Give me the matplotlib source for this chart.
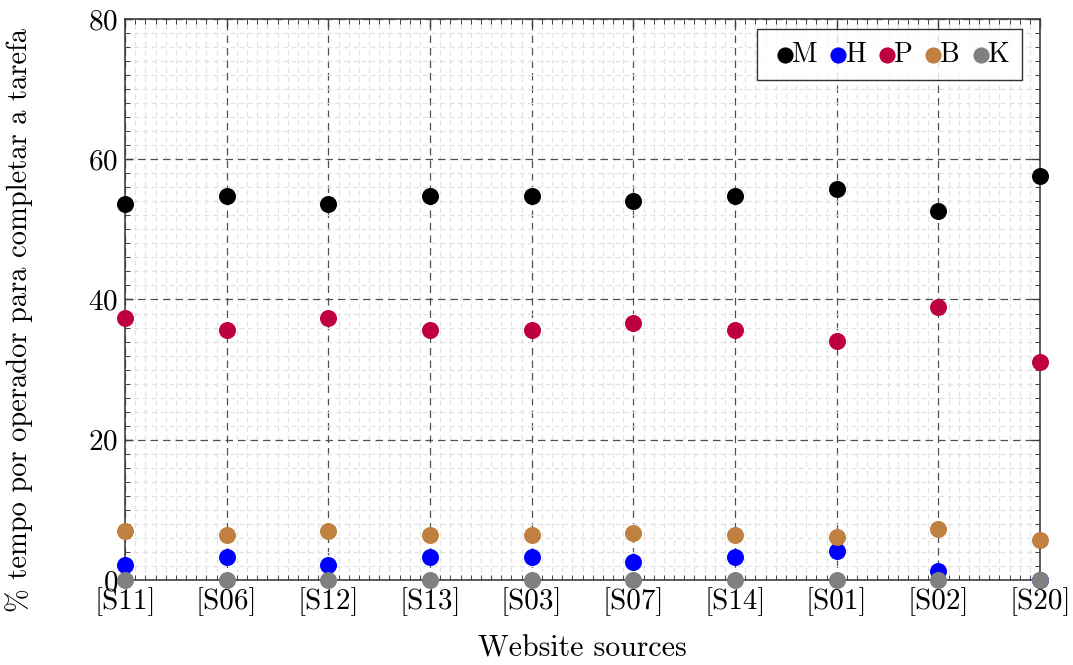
import matplotlib
matplotlib.use("Agg")
import matplotlib.pyplot as plt
from matplotlib.ticker import MultipleLocator

plt.rcParams['font.family'] = 'serif'
plt.rcParams['font.serif'] = ['cmr10', 'DejaVu Serif']
plt.rcParams['axes.formatter.use_mathtext'] = True
plt.rcParams['mathtext.fontset'] = 'cm'

categories = ["[S11]", "[S06]", "[S12]", "[S13]", "[S03]", "[S07]", "[S14]", "[S01]", "[S02]", "[S20]"]
M = [53.6, 54.8, 53.6, 54.8, 54.8, 54.1, 54.8, 55.8, 52.6, 57.6]
H = [2.1, 3.3, 2.1, 3.3, 3.3, 2.6, 3.3, 4.1, 1.3, 0.0]
P = [37.4, 35.7, 37.4, 35.7, 35.7, 36.7, 35.7, 34.1, 38.9, 31.1]
B = [7.0, 6.4, 7.0, 6.4, 6.4, 6.7, 6.4, 6.1, 7.3, 5.7]
K = [0, 0, 0, 0, 0, 0, 0, 0, 0, 0]

series = [("M", M, "black"), ("H", H, "#0000ff"), ("P", P, "#bf0040"),
          ("B", B, "#bf8040"), ("K", K, "#808080")]

fig = plt.figure(figsize=(10.73, 6.65), dpi=100)
ax = fig.add_axes([125/1073, 1-580/665, 915/1073, 561/665])

x = list(range(len(categories)))
for name, vals, col in series:
    ax.scatter(x, vals, s=150, color=col, label=name, zorder=5, clip_on=False, linewidths=0)

ax.set_xlim(0, len(categories)-1)
ax.set_ylim(0, 80)
ax.set_xticks(x)
ax.set_xticklabels(categories)
ax.xaxis.set_minor_locator(MultipleLocator(0.1))
ax.yaxis.set_major_locator(MultipleLocator(20))
ax.yaxis.set_minor_locator(MultipleLocator(2))

ax.grid(which='major', color='#505050', linestyle=(0, (6, 4)), linewidth=0.9, zorder=1)
ax.grid(which='minor', color='#e2e2e2', linestyle=(0, (4, 3)), linewidth=0.9, zorder=0)
ax.set_axisbelow(True)

ax.tick_params(which='both', direction='in', top=True, right=True, colors='#404040',
               labelcolor='black', labelsize=21)
ax.tick_params(which='major', length=6, width=1)
ax.tick_params(which='minor', length=3.5, width=0.7)
ax.tick_params(axis='x', which='major', pad=5)
ax.tick_params(axis='y', which='major', pad=5)
for sp in ax.spines.values():
    sp.set_color('#404040')
    sp.set_linewidth(1.2)

ax.set_xlabel("Website sources", fontsize=21.5)
ax.set_ylabel("% tempo por operador para completar a tarefa", fontsize=20.5)
ax.xaxis.set_label_coords(0.5, -0.098)
ax.yaxis.set_label_coords(-0.1, 0.463)

leg = ax.legend(loc='upper right', ncol=5, fontsize=20, frameon=True, fancybox=False,
                handletextpad=-0.3, columnspacing=0.2, borderpad=0.45,
                handlelength=1.1, bbox_to_anchor=(0.98, 0.982), markerscale=0.95,
                borderaxespad=0)
leg.get_frame().set_edgecolor('black')
leg.get_frame().set_linewidth(1.0)
leg.set_zorder(10)

fig.savefig("out.png", dpi=100)
